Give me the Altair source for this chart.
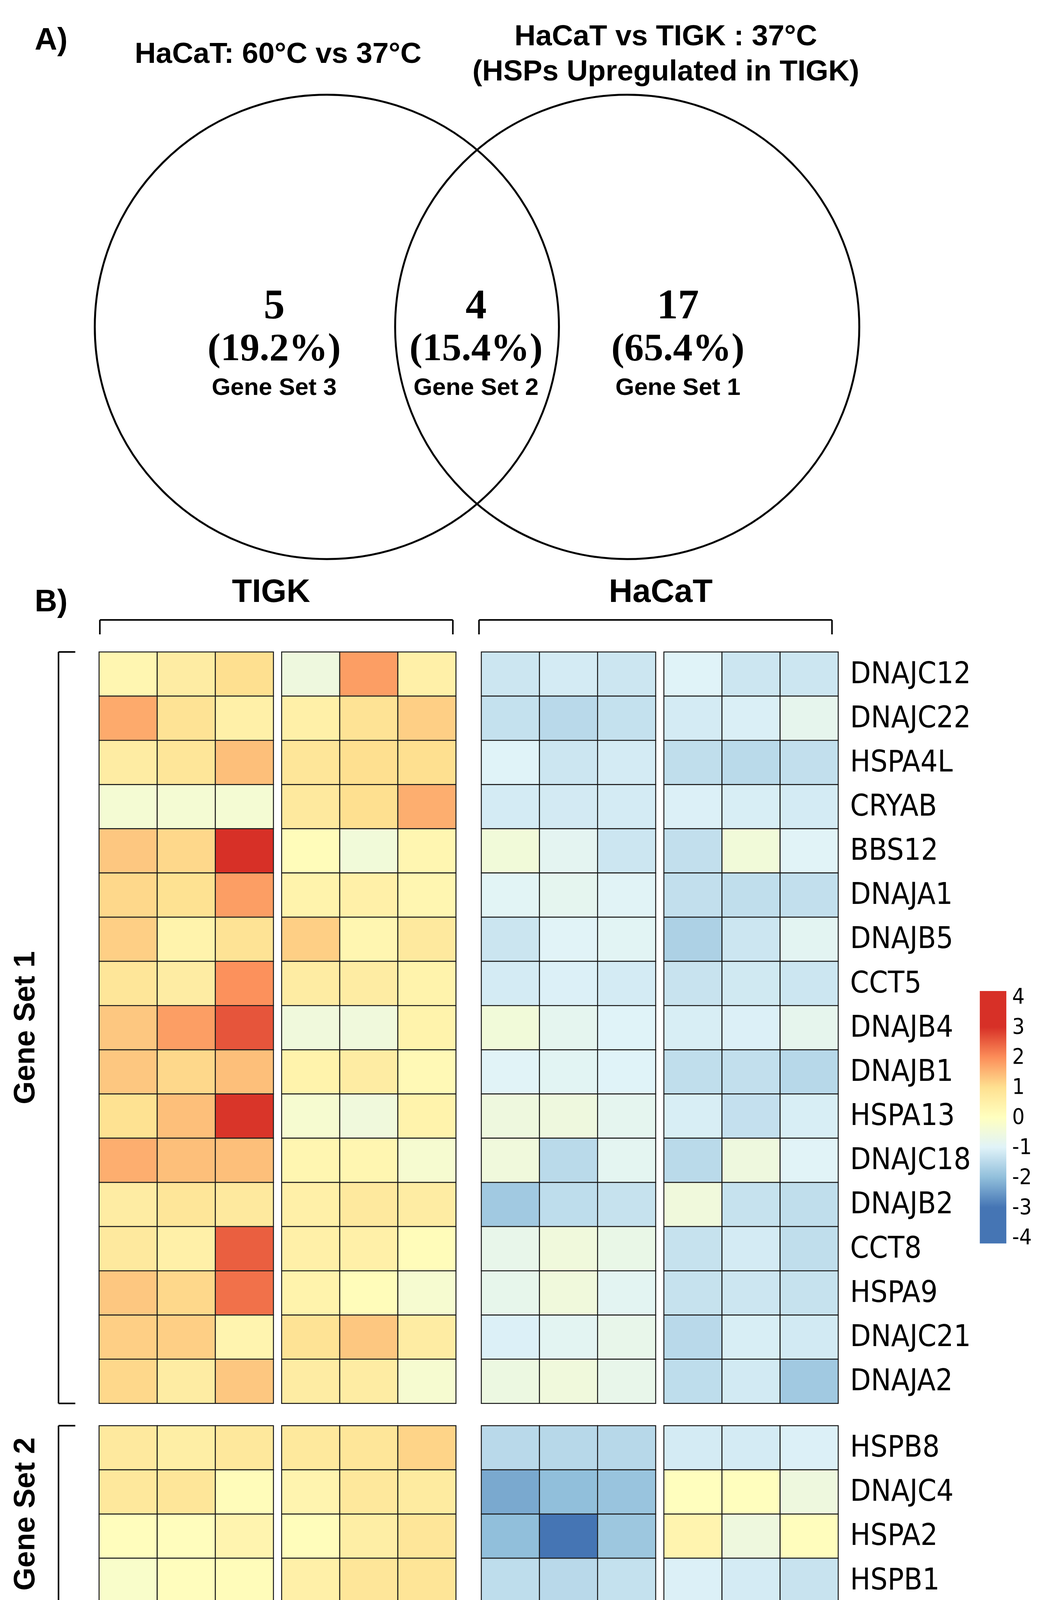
import altair as alt
import pandas as pd

SANS = "Liberation Sans, Arial, sans-serif"
SERIF = "Liberation Serif, Times New Roman, serif"
NARROW = "Liberation Sans Narrow, DejaVu Sans Condensed, sans-serif"

# ---------------- Panel A (Venn) ----------------
panel_labels = ["A)", "B)"]
venn_regions = ["Gene Set 3", "Gene Set 2", "Gene Set 1"]
venn_counts = ["5", "4", "17"]
venn_pcts = ["(19.2%)", "(15.4%)", "(65.4%)"]
venn_sets = ["HaCaT: 60°C vs 37°C", "HaCaT vs TIGK : 37°C"]
venn_set2_sub = "(HSPs Upregulated in TIGK)"

# ---------------- Panel B (heatmap) ----------------
cell_lines = ["TIGK", "HaCaT"]
group_line1 = ["TIGK Control", "TIGK + Heat", "HaCaT", "HaCaT + Heat"]
group_line2 = ["(37°C)", "(60°C - 10 min)", "Control (37°C)", "(60°C - 10 min)"]
set_names = ["Gene Set 1", "Gene Set 2", "Gene Set 3"]
replicates = [1, 2, 3]

genes_set1 = ["DNAJC12", "DNAJC22", "HSPA4L", "CRYAB", "BBS12", "DNAJA1", "DNAJB5",
              "CCT5", "DNAJB4", "DNAJB1", "HSPA13", "DNAJC18", "DNAJB2", "CCT8",
              "HSPA9", "DNAJC21", "DNAJA2"]
genes_set2 = ["HSPB8", "DNAJC4", "HSPA2", "HSPB1"]
genes_set3 = ["HSPB3", "HSPA5", "HSP90B1", "HYOU1", "DNAJB11"]

set1_tigk_ctrl = [[0.3, 0.6, 1.0], [1.65, 0.9, 0.5], [0.6, 0.8, 1.4], [-0.35, -0.35, -0.35],
                  [1.3, 1.1, 3.0], [1.1, 0.95, 1.8], [1.2, 0.4, 0.9], [0.8, 0.6, 1.95],
                  [1.3, 1.8, 2.6], [1.3, 1.1, 1.4], [0.95, 1.4, 2.95], [1.6, 1.4, 1.4],
                  [0.6, 0.8, 0.7], [0.7, 0.5, 2.5], [1.3, 1.1, 2.3], [1.2, 1.2, 0.35],
                  [1.1, 0.6, 1.3]]
set1_tigk_heat = [[-0.55, 1.8, 0.5], [0.5, 0.9, 1.2], [0.8, 1.0, 1.0], [0.7, 1.0, 1.6],
                  [0.1, -0.45, 0.3], [0.4, 0.5, 0.3], [1.2, 0.3, 0.7], [0.6, 0.6, 0.4],
                  [-0.5, -0.5, 0.4], [0.4, 0.6, 0.2], [-0.3, -0.5, 0.4], [0.3, 0.3, -0.3],
                  [0.5, 0.7, 0.6], [0.5, 0.5, 0.1], [0.4, 0.1, -0.3], [0.9, 1.3, 0.6],
                  [0.6, 0.6, -0.3]]
set1_hacat_ctrl = [[-1.25, -1.15, -1.25], [-1.35, -1.5, -1.35], [-1.0, -1.25, -1.15],
                   [-1.15, -1.17, -1.15], [-0.45, -0.88, -1.25], [-0.95, -0.85, -0.97],
                   [-1.27, -0.98, -0.93], [-1.15, -1.05, -1.15], [-0.45, -0.85, -1.0],
                   [-0.98, -0.92, -1.0], [-0.55, -0.55, -0.85], [-0.5, -1.48, -0.87],
                   [-1.8, -1.43, -1.33], [-0.75, -0.5, -0.7], [-0.78, -0.5, -0.9],
                   [-1.05, -0.9, -0.75], [-0.6, -0.5, -0.75]]
set1_hacat_heat = [[-1.0, -1.25, -1.25], [-1.15, -1.07, -0.8], [-1.4, -1.48, -1.38],
                   [-1.05, -1.1, -1.15], [-1.38, -0.45, -0.98], [-1.38, -1.4, -1.38],
                   [-1.65, -1.25, -0.9], [-1.3, -1.2, -1.25], [-1.1, -1.05, -0.8],
                   [-1.4, -1.38, -1.52], [-1.1, -1.36, -1.1], [-1.48, -0.55, -0.98],
                   [-0.5, -1.33, -1.4], [-1.33, -1.15, -1.4], [-1.33, -1.25, -1.33],
                   [-1.5, -1.1, -1.18], [-1.43, -1.18, -1.8]]

set2_tigk_ctrl = [[0.7, 0.55, 0.75], [0.75, 0.8, 0.1], [0.05, 0.05, 0.35], [-0.2, 0.05, 0.1]]
set2_tigk_heat = [[0.72, 0.8, 1.15], [0.35, 0.75, 0.65], [0.08, 0.55, 0.8], [0.5, 0.8, 0.85]]
set2_hacat_ctrl = [[-1.5, -1.52, -1.52], [-2.3, -2.0, -1.9], [-2.0, -3.0, -1.85], [-1.43, -1.5, -1.35]]
set2_hacat_heat = [[-1.15, -1.15, -1.05], [0.02, 0.02, -0.55], [0.35, -0.55, 0.05], [-1.05, -1.15, -1.3]]

set3_tigk_ctrl = [[-1.05, -0.5, -1.25], [-1.33, -1.33, -1.18], [-1.3, -1.33, -0.8],
                  [-1.05, -1.12, -1.6], [-1.18, -1.4, -1.38]]
set3_tigk_heat = [[0.5, 1.35, 1.7], [-1.3, -1.18, -1.22], [-1.22, -1.28, -1.35],
                  [-1.18, -1.2, -1.35], [-1.65, -1.1, -1.35]]
set3_hacat_ctrl = [[-1.43, -1.9, -2.3], [0.25, 0.25, 0.2], [0.2, 0.6, 0.1],
                   [0.25, 0.25, 0.3], [0.6, 0.5, 0.25]]
set3_hacat_heat = [[0.45, 0.03, 0.6], [1.25, 1.1, 1.25], [1.3, 1.05, 1.3],
                   [1.25, 1.05, 1.1], [1.5, 0.7, 1.05]]

# colour bar runs a little beyond +-4, as in the reference
color_domain = [-4.2, -3, -2, -1, 0, 1, 2, 3, 4.2]
color_range = ["#4575B4", "#4575B4", "#91BFDB", "#E0F3F8", "#FFFFBF",
               "#FEE090", "#FC8D59", "#D73027", "#D73027"]
legend_ticks = [4, 3, 2, 1, 0, -1, -2, -3, -4]

one = pd.DataFrame({"k": [0]})


def rule(x, y, x2=None, y2=None, w=4):
    enc = dict(x=alt.value(x), y=alt.value(y))
    if x2 is not None:
        enc["x2"] = alt.value(x2)
    if y2 is not None:
        enc["y2"] = alt.value(y2)
    return alt.Chart(one).mark_rule(color="black", strokeWidth=w).encode(**enc)


def label(text, x, y, size, font=SANS, bold=True, angle=0):
    kw = dict(font=font, fontSize=size, baseline="middle", align="center", color="black")
    if bold:
        kw["fontWeight"] = "bold"
    if angle:
        kw["angle"] = angle
    return alt.Chart(pd.DataFrame({"t": [text]})).mark_text(**kw).encode(
        x=alt.value(x), y=alt.value(y), text="t:N")


def spacer(w, h):
    return alt.Chart(one).mark_point(opacity=0).encode(
        x=alt.value(0), y=alt.value(0)).properties(width=w, height=h)


# ---------- Venn ----------
W = 2655
venn_df = pd.DataFrame({"region": venn_regions, "count": venn_counts, "pct": venn_pcts})
rx = alt.X("region:N", sort=venn_regions,
           scale=alt.Scale(type="point", domain=venn_regions, range=[692, 1727], padding=0),
           axis=None)
vb = alt.Chart(venn_df)
t_count = vb.mark_text(font=SERIF, fontWeight="bold", fontSize=108, baseline="middle",
                       color="black").encode(x=rx, y=alt.value(773), text="count:N")
t_pct = vb.mark_text(font=SERIF, fontWeight="bold", fontSize=100, baseline="middle",
                     color="black").encode(x=rx, y=alt.value(882), text="pct:N")
t_name = vb.mark_text(font=SANS, fontWeight="bold", fontSize=62, baseline="middle",
                      color="black").encode(x=rx, y=alt.value(982), text="region:N")

sets_df = pd.DataFrame({"set": venn_sets})
sx = alt.X("set:N", sort=venn_sets,
           scale=alt.Scale(type="point", domain=venn_sets, range=[827, 1597], padding=0),
           axis=None)
circles = alt.Chart(sets_df).mark_point(shape="circle", size=1190 ** 2, filled=False,
                                        color="black", strokeWidth=5, opacity=1).encode(
    x=sx, y=alt.value(827))

venn = alt.layer(
    circles, t_count, t_pct, t_name,
    label(venn_sets[0], 702, 127, 75),
    label(venn_sets[1], 1696, 82, 75),
    label(venn_set2_sub, 1696, 172, 75),
    label(panel_labels[0], 120, 92, 80),
).resolve_scale(x="independent").properties(width=W, height=1442)

# ---------- header row ----------
def header(name, cx):
    return alt.layer(
        label(name, cx, 65, 84),
        rule(4, 136, x2=909), rule(4, 136, y2=173), rule(909, 136, y2=173),
    ).properties(width=911, height=216)


hdr_left = alt.layer(label(panel_labels[1], 120, 90, 80)).properties(width=241, height=216)
header_row = alt.hconcat(
    hdr_left,
    alt.hconcat(header(cell_lines[0], 443), header(cell_lines[1], 470), spacing=61),
    spacing=0)

# ---------- heatmap ----------
cscale = alt.Scale(domain=color_domain, range=color_range, interpolate="rgb", clamp=True)
legend = alt.Legend(orient="none", legendX=2501, legendY=2529, direction="vertical",
                    gradientLength=647, gradientThickness=68, title=None,
                    values=legend_ticks, labelFont=NARROW, labelFontSize=56,
                    labelOffset=15, labelColor="black", gradientStrokeWidth=0,
                    labelBaseline="middle", labelOverlap=False, padding=0,
                    labelExpr="datum.value + ''")


def heat(genes, vals, h, labels=False):
    rows = []
    for g, trip in zip(genes, vals):
        for r, v in zip(replicates, trip):
            rows.append({"gene": g, "rep": r, "z": v})
    df = pd.DataFrame(rows)
    if labels:
        yax = alt.Axis(orient="right", title=None, domain=False, ticks=False,
                       labelFont=NARROW, labelFontSize=77, labelPadding=30,
                       labelColor="black", labelLimit=0)
    else:
        yax = None
    return alt.Chart(df).mark_rect(stroke="#1a1a1a", strokeWidth=2.5).encode(
        x=alt.X("rep:O", axis=None),
        y=alt.Y("gene:N", sort=genes, axis=yax),
        color=alt.Color("z:Q", scale=cscale, legend=legend),
    ).properties(width=447, height=h)


def left(name, h):
    return alt.layer(
        label(name, 54, h / 2, 76, angle=270),
        rule(139, 0, y2=h), rule(139, 0, x2=182), rule(139, h, x2=182),
    ).properties(width=241, height=h)


ROW = 113.3
sets = [
    (genes_set1, [set1_tigk_ctrl, set1_tigk_heat, set1_hacat_ctrl, set1_hacat_heat]),
    (genes_set2, [set2_tigk_ctrl, set2_tigk_heat, set2_hacat_ctrl, set2_hacat_heat]),
    (genes_set3, [set3_tigk_ctrl, set3_tigk_heat, set3_hacat_ctrl, set3_hacat_heat]),
]
heat_rows = []
for i, (genes, blocks) in enumerate(sets):
    h = round(ROW * len(genes))
    grid = alt.hconcat(
        alt.hconcat(heat(genes, blocks[0], h), heat(genes, blocks[1], h), spacing=17),
        alt.hconcat(heat(genes, blocks[2], h), heat(genes, blocks[3], h, labels=True), spacing=17),
        spacing=61)
    heat_rows.append(alt.hconcat(left(set_names[i], h), grid, spacing=0))
heat_block = alt.vconcat(*heat_rows, spacing=53)

# ---------- bottom row ----------
def bottom(l1, l2):
    return alt.layer(
        label(l1, 223, 128, 63), label(l2, 223, 208, 63),
        rule(42, 19, y2=89, w=3), rule(405, 19, y2=89, w=3), rule(42, 89, x2=405),
    ).properties(width=447, height=268)


bottom_row = alt.hconcat(
    spacer(241, 268),
    alt.hconcat(
        alt.hconcat(bottom(group_line1[0], group_line2[0]), bottom(group_line1[1], group_line2[1]), spacing=17),
        alt.hconcat(bottom(group_line1[2], group_line2[2]), bottom(group_line1[3], group_line2[3]), spacing=17),
        spacing=61),
    spacing=0)

chart = alt.vconcat(venn, header_row, heat_block, bottom_row, spacing=0).properties(
    padding=0, background="white").configure_view(stroke=None)

chart.save("out.html", embed_options={"renderer": "svg", "actions": False})
